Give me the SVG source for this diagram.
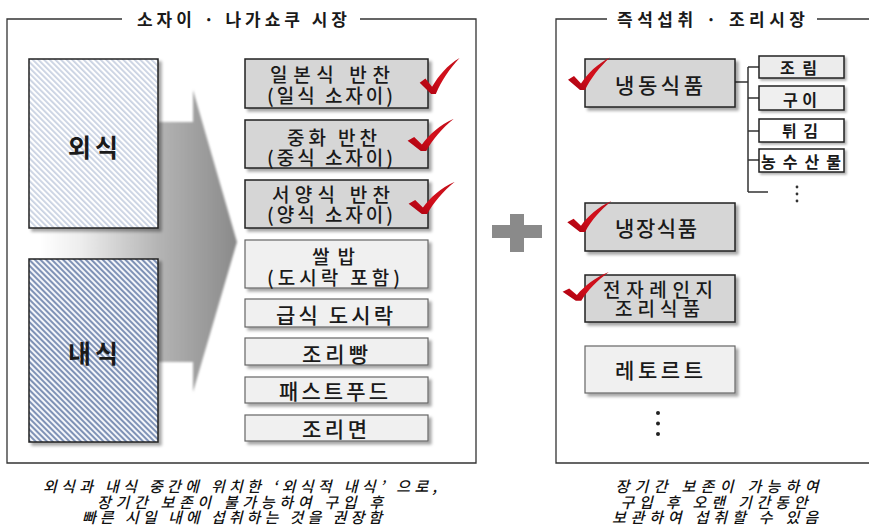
<svg xmlns="http://www.w3.org/2000/svg" width="869" height="527" viewBox="0 0 869 527">
<style>
text{font-family:"Noto Sans CJK KR","Noto Sans",sans-serif;fill:#1a1a1a;text-anchor:middle;dominant-baseline:central;font-weight:500}
.bt{font-size:21px}
.b2{font-size:19px}
.st{font-size:16px;font-weight:bold}
.big{font-size:25px;font-weight:bold}
.ttl{font-size:17px;font-weight:bold}
.cap{font-size:15px;font-style:italic;fill:#111}
.frame{fill:none;stroke:#333;stroke-width:1.3}
.dark{fill:#d6d6d6;stroke:#222;stroke-width:1.5;filter:url(#sh)}
.light{fill:#f0f0f0;stroke:#666;stroke-width:1.2;filter:url(#sh)}
.sub{stroke:#222;stroke-width:1.5;filter:url(#sh2)}
.conn{fill:none;stroke:#333;stroke-width:1.5}
.chk{fill:url(#red)}
</style>
<defs>
<filter id="sh" x="-10%" y="-10%" width="130%" height="140%"><feDropShadow dx="3" dy="3" stdDeviation="1.8" flood-color="#000" flood-opacity="0.35"/></filter>
<filter id="sh2" x="-10%" y="-10%" width="130%" height="150%"><feDropShadow dx="2" dy="2" stdDeviation="1.2" flood-color="#000" flood-opacity="0.3"/></filter>
<filter id="blur"><feGaussianBlur stdDeviation="1"/></filter>
<pattern id="hatchL" patternUnits="userSpaceOnUse" width="4" height="4" patternTransform="rotate(-45)"><rect width="4" height="4" fill="#ffffff"/><rect width="1.8" height="4" fill="#c9d2e2"/></pattern>
<pattern id="hatchD" patternUnits="userSpaceOnUse" width="4" height="4" patternTransform="rotate(-45)"><rect width="4" height="4" fill="#f4f6fa"/><rect width="2" height="4" fill="#7f92b6"/></pattern>
<linearGradient id="arrowG" x1="40" y1="0" x2="237" y2="0" gradientUnits="userSpaceOnUse"><stop offset="0" stop-color="#ffffff"/><stop offset="0.2" stop-color="#eeeeee"/><stop offset="0.6" stop-color="#b4b4b4"/><stop offset="1" stop-color="#8a8a8a"/></linearGradient>
<linearGradient id="red" x1="0" y1="1" x2="1" y2="0"><stop offset="0" stop-color="#a8000f"/><stop offset="0.5" stop-color="#d4101c"/><stop offset="1" stop-color="#c0101a"/></linearGradient>
<path id="chk" class="chk" d="M -14,-10 L -8,-14 L -1,-6 C 6,-17 15,-27 28,-34 C 17,-23 9,-12 3,1 L -2,1 Z"/>
</defs>
<rect width="869" height="527" fill="#fff"/>

<g id="frame-left">
<path class="frame" d="M122 19 H7 V463 H476 V19 H360"/>
<text class="ttl" x="242" y="18.5" textLength="210">소자이 · 나가쇼쿠 시장</text>
</g>
<g id="frame-right">
<path class="frame" d="M607 19 H556 V463 H869 M817 19 H869"/>
<text class="ttl" x="711" y="18.5" textLength="188">즉석섭취 · 조리시장</text>
</g>

<g id="arrow">
<path d="M40 122 H193 V90 L237 242 L193 392 V362 H40 Z" fill="url(#arrowG)" filter="url(#blur)"/>
</g>

<g id="oesik">
<rect x="29" y="59" width="129" height="169" fill="url(#hatchL)" stroke="#222" stroke-width="1.5" filter="url(#sh)"/>
<text class="big" x="93" y="146" textLength="50">외식</text>
</g>
<g id="naesik">
<rect x="29" y="259" width="129" height="183" fill="url(#hatchD)" stroke="#222" stroke-width="1.5" filter="url(#sh)"/>
<text class="big" x="93" y="352" textLength="50">내식</text>
</g>

<g id="japanese">
<rect class="dark" x="245" y="59" width="183" height="49"/>
<text class="b2" x="330" y="73.5" textLength="120">일본식 반찬</text>
<text class="b2" x="330" y="94" textLength="126">(일식 소자이)</text>
<use href="#chk" transform="translate(433,93) scale(0.95,1.03)"/>
</g>
<g id="chinese">
<rect class="dark" x="245" y="120" width="183" height="48"/>
<text class="b2" x="332" y="136" textLength="90">중화 반찬</text>
<text class="b2" x="330" y="156.5" textLength="126">(중식 소자이)</text>
<use href="#chk" transform="translate(423,150) scale(1.1,0.92)"/>
</g>
<g id="western">
<rect class="dark" x="245" y="180" width="183" height="48"/>
<text class="b2" x="331" y="193.5" textLength="118">서양식 반찬</text>
<text class="b2" x="330" y="213.5" textLength="126">(양식 소자이)</text>
<use href="#chk" transform="translate(424,213) scale(1.1,0.92)"/>
</g>
<g id="rice">
<rect class="light" x="245" y="240" width="183" height="48"/>
<text class="b2" x="333.5" y="255" textLength="43">쌀밥</text>
<text class="b2" x="333.5" y="276.5" textLength="133">(도시락 포함)</text>
</g>
<g id="lunchbox">
<rect class="light" x="245" y="299" width="183" height="28"/>
<text class="bt" x="334.5" y="314" textLength="117">급식 도시락</text>
</g>
<g id="bread">
<rect class="light" x="245" y="338" width="183" height="27"/>
<text class="bt" x="335" y="352.5" textLength="66">조리빵</text>
</g>
<g id="fastfood">
<rect class="light" x="245" y="377" width="183" height="26"/>
<text class="bt" x="333.5" y="389.5" textLength="109">패스트푸드</text>
</g>
<g id="noodle">
<rect class="light" x="245" y="415" width="183" height="26"/>
<text class="bt" x="334.5" y="428" textLength="65">조리면</text>
</g>

<g id="plus">
<rect x="492" y="225" width="50" height="13" fill="#8a8a8a"/>
<rect x="510" y="214" width="14" height="38" fill="#8a8a8a"/>
</g>

<g id="connectors">
<path class="conn" d="M735 82 H748 M748 67 V192 M748 67 H759 M748 98 H759 M748 131 H759 M748 160 H759 M748 192 H768"/>
</g>

<g id="frozen">
<rect class="dark" x="585" y="59" width="150" height="48"/>
<text class="bt" x="659" y="84" textLength="88">냉동식품</text>
<use href="#chk" transform="translate(582,89) scale(1,0.93)"/>
</g>
<g id="jorim">
<rect class="sub" x="759" y="56" width="85" height="22" fill="#ececec"/>
<text class="st" x="798.5" y="67" textLength="37">조림</text>
</g>
<g id="gui">
<rect class="sub" x="759" y="86" width="85" height="24" fill="#efefef"/>
<text class="st" x="800" y="98.5" textLength="34">구이</text>
</g>
<g id="twigim">
<rect class="sub" x="759" y="119" width="85" height="23" fill="#ffffff"/>
<text class="st" x="800" y="130" textLength="36">튀김</text>
</g>
<g id="nongsusan">
<rect class="sub" x="759" y="149" width="85" height="23" fill="#ffffff"/>
<text class="st" x="801" y="160.5" textLength="80">농수산물</text>
</g>
<g id="tree-dots">
<circle cx="797" cy="187" r="1.4" fill="#333"/>
<circle cx="797" cy="194" r="1.4" fill="#333"/>
<circle cx="797" cy="201" r="1.4" fill="#333"/>
</g>

<g id="chilled">
<rect class="dark" x="585" y="203" width="150" height="48"/>
<text class="bt" x="656" y="227" textLength="82">냉장식품</text>
<use href="#chk" transform="translate(582,231) scale(1.05,0.88)"/>
</g>
<g id="microwave">
<rect class="dark" x="585" y="275" width="150" height="47"/>
<text class="b2" x="658" y="288.5" textLength="110">전자레인지</text>
<text class="b2" x="657.5" y="307.5" textLength="85">조리식품</text>
<use href="#chk" transform="translate(578,300) scale(1.1,0.82)"/>
</g>
<g id="retort">
<rect class="light" x="585" y="346" width="150" height="47"/>
<text class="bt" x="659" y="368.5" textLength="88">레토르트</text>
</g>
<g id="more-dots">
<circle cx="658" cy="413" r="2" fill="#222"/>
<circle cx="658" cy="423.5" r="2" fill="#222"/>
<circle cx="658" cy="434" r="2" fill="#222"/>
</g>

<g id="caption-left">
<text class="cap" x="240" y="485" textLength="394">외식과 내식 중간에 위치한 ‘외식적 내식’ 으로,</text>
<text class="cap" x="240" y="501" textLength="286">장기간 보존이 불가능하여 구입 후</text>
<text class="cap" x="232" y="516" textLength="300">빠른 시일 내에 섭취하는 것을 권장함</text>
</g>
<g id="caption-right">
<text class="cap" x="717" y="485.5" textLength="203">장기간 보존이 가능하여</text>
<text class="cap" x="714" y="501" textLength="187">구입 후 오랜 기간동안</text>
<text class="cap" x="715" y="516" textLength="206">보관하여 섭취할 수 있음</text>
</g>
</svg>
